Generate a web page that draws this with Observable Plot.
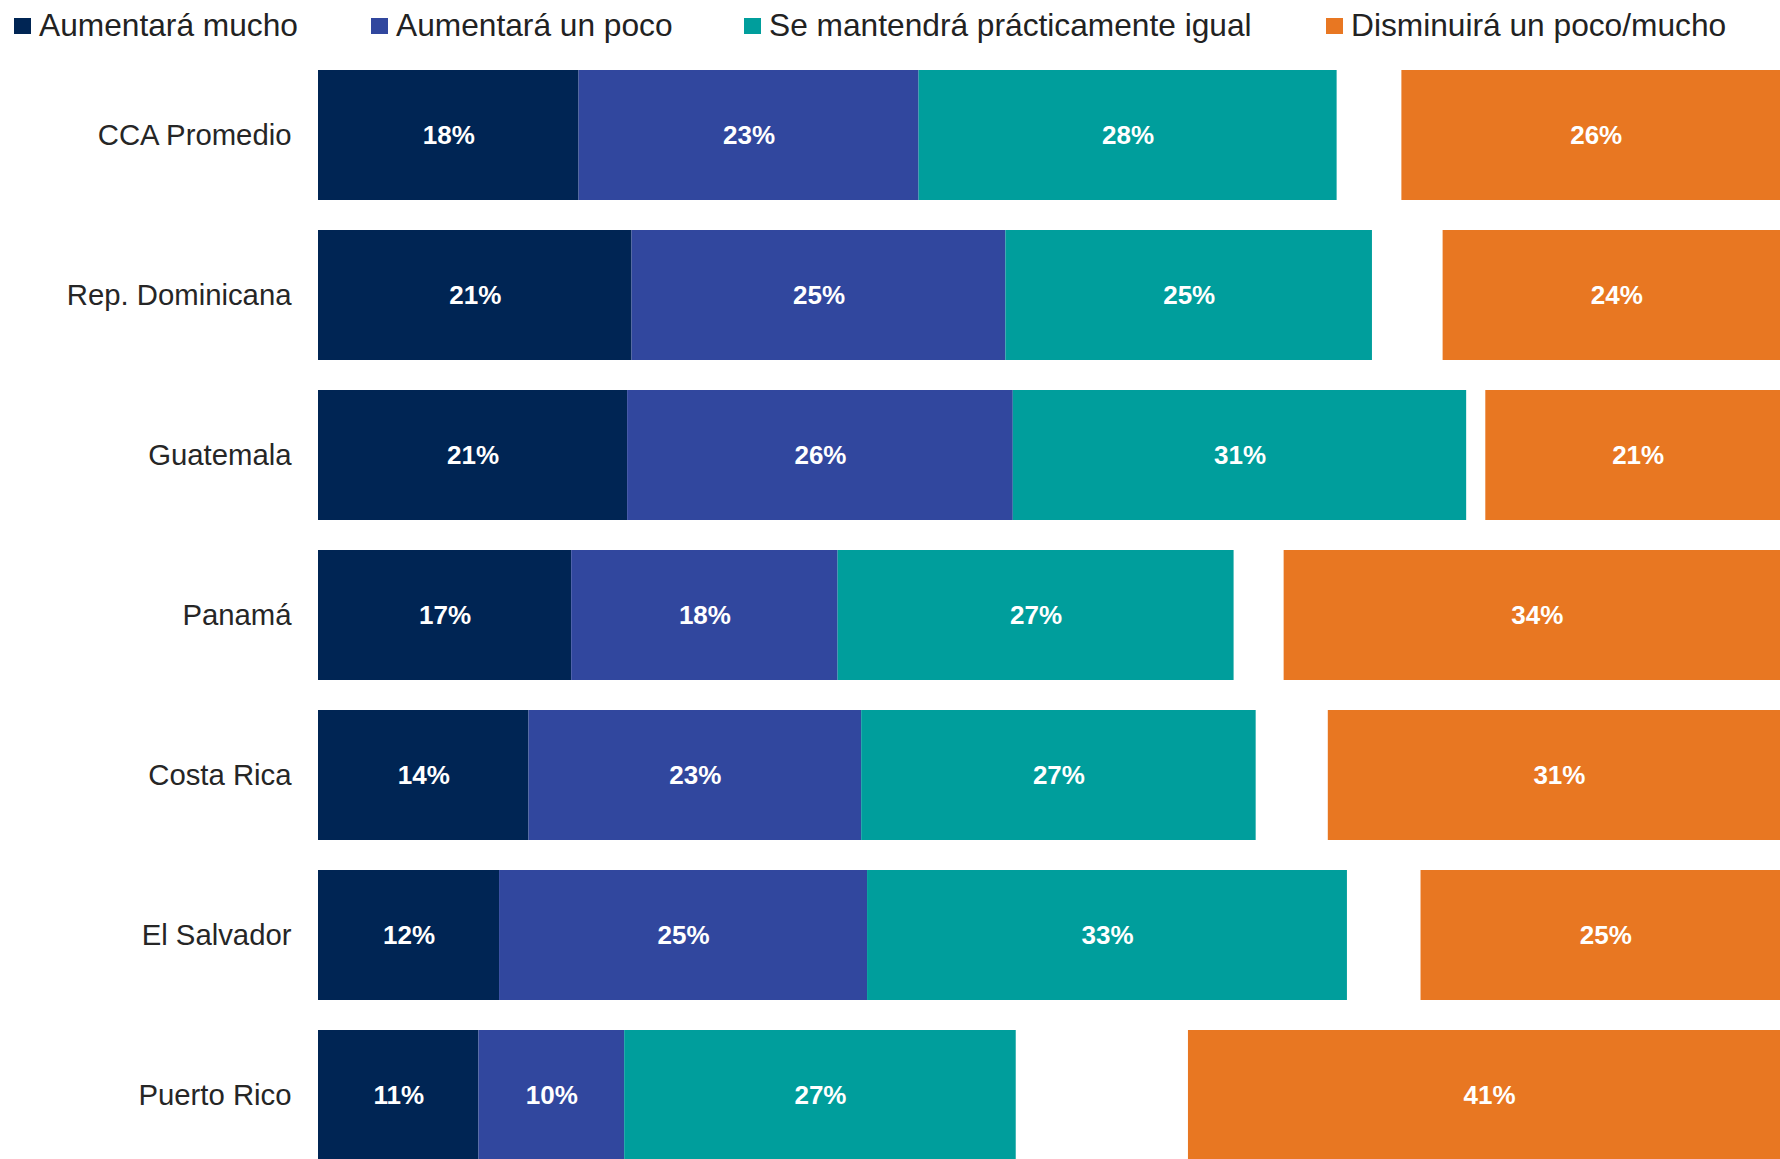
<!DOCTYPE html>
<html><head><meta charset="utf-8">
<script src="https://cdn.jsdelivr.net/npm/d3@7"></script>
<script src="https://cdn.jsdelivr.net/npm/@observablehq/plot@0.6"></script>
<style>
body{margin:0;background:#fff;font-family:"Liberation Sans",Arial,sans-serif;}
#wrap{position:relative;width:1780px;height:1159px;overflow:hidden;}
#legend{position:absolute;left:0;top:0;width:1780px;height:52px;z-index:2}
.item{position:absolute;top:7px;display:flex;align-items:center;font-size:31.7px;color:#222;line-height:36px;white-space:nowrap}
.sw{width:17px;height:16px;margin-right:8px;margin-top:2px}
#chart svg{overflow:hidden;display:block}
</style></head><body>
<div id="wrap"><div id="legend"></div><div id="chart"></div></div>
<script>
const countries = ["CCA Promedio","Rep. Dominicana","Guatemala","Panamá","Costa Rica","El Salvador","Puerto Rico"];
const series = ["Aumentará mucho","Aumentará un poco","Se mantendrá prácticamente igual","Disminuirá un poco/mucho"];
const colors = ["#002554","#31479e","#009e9c","#e87722"];
const aumentaMucho = [17.7,21.3,21.0,17.2,14.3,12.3,10.9];
const aumentaPoco  = [23.1,25.4,26.2,18.1,22.6,25.0,9.9];
const igual        = [28.4,24.9,30.8,26.9,26.8,32.6,26.6];
const disminuye    = [26.4,23.6,20.7,34.4,31.4,25.1,40.9];
const legendLeft = [14,371,744,1326];

// legend
const leg = document.getElementById("legend");
series.forEach((s,i)=>{
  const it = document.createElement("div");
  it.className="item"; it.style.left = legendLeft[i]+"px";
  const sw = document.createElement("div"); sw.className="sw"; sw.style.background=colors[i];
  const tx = document.createElement("span"); tx.textContent = s;
  it.appendChild(sw); it.appendChild(tx); leg.appendChild(it);
});

const stackRows = [];
countries.forEach((c,i)=>{
  stackRows.push({country:c, serie:series[0], value:aumentaMucho[i]});
  stackRows.push({country:c, serie:series[1], value:aumentaPoco[i]});
  stackRows.push({country:c, serie:series[2], value:igual[i]});
});
const disRows = countries.map((c,i)=>({country:c, serie:series[3], value:disminuye[i]}));
const pct = d => Math.round(d.value)+"%";

const plot = Plot.plot({
  width:1780, height:1159,
  marginLeft:0, marginRight:0, marginTop:0, marginBottom:0,
  x:{domain:[0,100], range:[318,1790], axis:null},
  y:{domain:countries, range:[67,1162], paddingInner:0.19, paddingOuter:0, axis:null},
  color:{domain:series, range:colors},
  style:{fontFamily:"'Liberation Sans', Arial, sans-serif", background:"white", overflow:"hidden"},
  marks:[
    Plot.barX(stackRows, Plot.stackX({x:"value", y:"country", z:"serie", fill:"serie", order:null})),
    Plot.barX(disRows, {x1:d=>100-d.value, x2:100, y:"country", fill:"serie"}),
    Plot.text(stackRows, Plot.stackX({x:"value", y:"country", z:"serie", order:null, text:pct, fill:"white", fontWeight:"bold", fontSize:26})),
    Plot.text(disRows, {x:d=>100-d.value/2, y:"country", text:pct, fill:"white", fontWeight:"bold", fontSize:26}),
    Plot.text(countries, {x:0, y:d=>d, text:d=>d, dx:-27, textAnchor:"end", fontSize:29.3, fill:"#262626"})
  ]
});
document.getElementById("chart").appendChild(plot);
</script>
</body></html>
